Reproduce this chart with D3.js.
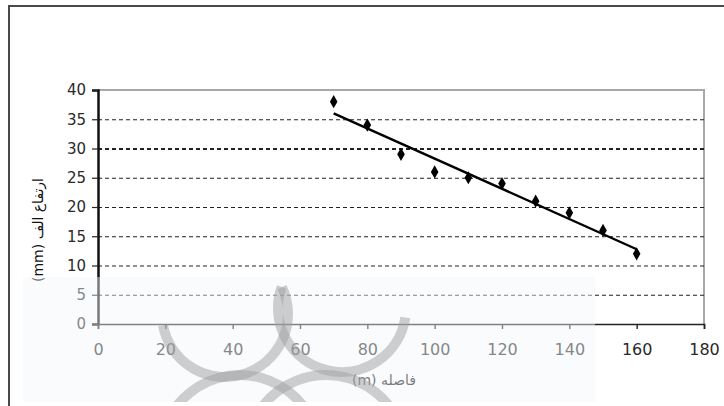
<!DOCTYPE html>
<html>
<head>
<meta charset="utf-8">
<script src="https://cdn.jsdelivr.net/npm/d3@7"></script>
<style>
  body { margin: 0; background: #fff; }
  svg { display: block; }
  text { font-family: "DejaVu Sans", sans-serif; }
</style>
</head>
<body>
<div></div>
<script>
const width = 724;
const height = 406;

// measured data (distance in m, height in mm)
const distance = [70, 80, 90, 100, 110, 120, 130, 140, 150, 160];
const heightMm = [38, 34, 29, 26, 25, 24, 21, 19, 16, 12];
const xTicks = [0, 20, 40, 60, 80, 100, 120, 140, 160, 180];
const yTicks = [0, 5, 10, 15, 20, 25, 30, 35, 40];
const xTitle = "فاصله (m)";
const yTitle = "ارتفاع الف (mm)";

const x = d3.scaleLinear().domain([0, 180]).range([98, 704]);
const y = d3.scaleLinear().domain([0, 40]).range([324, 90]);

// least squares trend line
const mx = d3.mean(distance), my = d3.mean(heightMm);
const slope = d3.sum(distance, (d, i) => (d - mx) * (heightMm[i] - my)) /
              d3.sum(distance, d => (d - mx) * (d - mx));
const icpt = my - slope * mx;
const xExt = d3.extent(distance);
const trend = xExt.map(d => [d, icpt + slope * d]);

const svg = d3.create("svg")
    .attr("width", width)
    .attr("height", height)
    .attr("viewBox", [0, 0, width, height]);

// outer frame
svg.append("path")
    .attr("d", `M9,${height + 2}V6H${width + 2}`)
    .attr("fill", "none")
    .attr("stroke", "#4a4a4a")
    .attr("stroke-width", 2);

// plot frame (top and right)
svg.append("path")
    .attr("d", `M${x(0)},${y(40)}H${x(180)}V${y(0)}`)
    .attr("fill", "none")
    .attr("stroke", "#a8a8a8")
    .attr("stroke-width", 2);

// dashed grid
svg.append("g")
  .selectAll("line")
  .data(yTicks.filter(d => d > 0 && d < 40))
  .join("line")
    .attr("x1", x(0))
    .attr("x2", x(180))
    .attr("y1", d => y(d) + 0.5)
    .attr("y2", d => y(d) + 0.5)
    .attr("stroke", "#222")
    .attr("stroke-width", d => d === 30 ? 2.2 : 1.2)
    .attr("stroke-dasharray", "4,3");

// y axis
const yAxis = svg.append("g")
    .attr("transform", `translate(${x(0)},0)`)
    .call(d3.axisLeft(y).tickValues(yTicks).tickSize(6).tickPadding(6));
yAxis.select(".domain").attr("stroke", "#111").attr("stroke-width", 2.5);
yAxis.selectAll(".tick line").attr("stroke", "#222").attr("stroke-width", 1.2);
yAxis.selectAll("text")
    .attr("fill", "#2a2a2a")
    .style("font-size", "15px");

// x axis
const xAxis = svg.append("g")
    .attr("transform", `translate(0,${y(0)})`)
    .call(d3.axisBottom(x).tickValues(xTicks).tickSize(5).tickPadding(15));
xAxis.select(".domain").attr("stroke", "#222").attr("stroke-width", 1.6);
xAxis.selectAll(".tick line").attr("stroke", "#222").attr("stroke-width", 1.4);
xAxis.selectAll("text")
    .attr("fill", "#2a2a2a")
    .style("font-size", "16px");

// trend line
svg.append("line")
    .attr("x1", x(trend[0][0]))
    .attr("y1", y(trend[0][1]))
    .attr("x2", x(trend[1][0]))
    .attr("y2", y(trend[1][1]))
    .attr("stroke", "#000")
    .attr("stroke-width", 2.4);

// markers
svg.append("g")
  .selectAll("path")
  .data(distance)
  .join("path")
    .attr("transform", (d, i) => `translate(${x(d)},${y(heightMm[i])})`)
    .attr("d", d3.symbol(d3.symbolDiamond, 50))
    .attr("fill", "#000");

// axis titles
svg.append("text")
    .attr("x", 384)
    .attr("y", 385)
    .attr("text-anchor", "middle")
    .attr("direction", "rtl")
    .attr("fill", "#111")
    .style("font-size", "14px")
    .text(xTitle);

svg.append("text")
    .attr("transform", "translate(43,230) rotate(-90)")
    .attr("text-anchor", "middle")
    .attr("direction", "rtl")
    .attr("fill", "#111")
    .style("font-size", "14px")
    .text(yTitle);

// faded watermark band over the lower left
svg.append("clipPath").attr("id", "wm")
  .append("rect")
    .attr("x", 23).attr("y", 277).attr("width", 572).attr("height", 125);

svg.append("rect")
    .attr("x", 23).attr("y", 277).attr("width", 572).attr("height", 125)
    .attr("fill", "#f1f6fb")
    .attr("opacity", 0.45);

const wm = svg.append("g")
    .attr("clip-path", "url(#wm)")
    .attr("fill", "none")
    .attr("stroke", "#a0a0a0")
    .attr("stroke-opacity", 0.5)
    .attr("stroke-width", 10);

// cx, cy, r, start, end (d3.arc angles)
const arcs = [
  [225, 314, 63, 1.13, 4.53],
  [342, 308, 64, 1.72, 5.05],
  [240, 455, 80, -1.2, 0.9],
  [326, 455, 80, -0.9, 1.2]
];
wm.selectAll("path")
  .data(arcs)
  .join("path")
    .attr("d", d => {
      const p = d3.path();
      p.arc(0, 0, d[2], d[3] - Math.PI / 2, d[4] - Math.PI / 2);
      return p.toString();
    })
    .attr("transform", d => `translate(${d[0]},${d[1]})`);

d3.select("body>div").append(() => svg.node());
</script>
</body>
</html>
